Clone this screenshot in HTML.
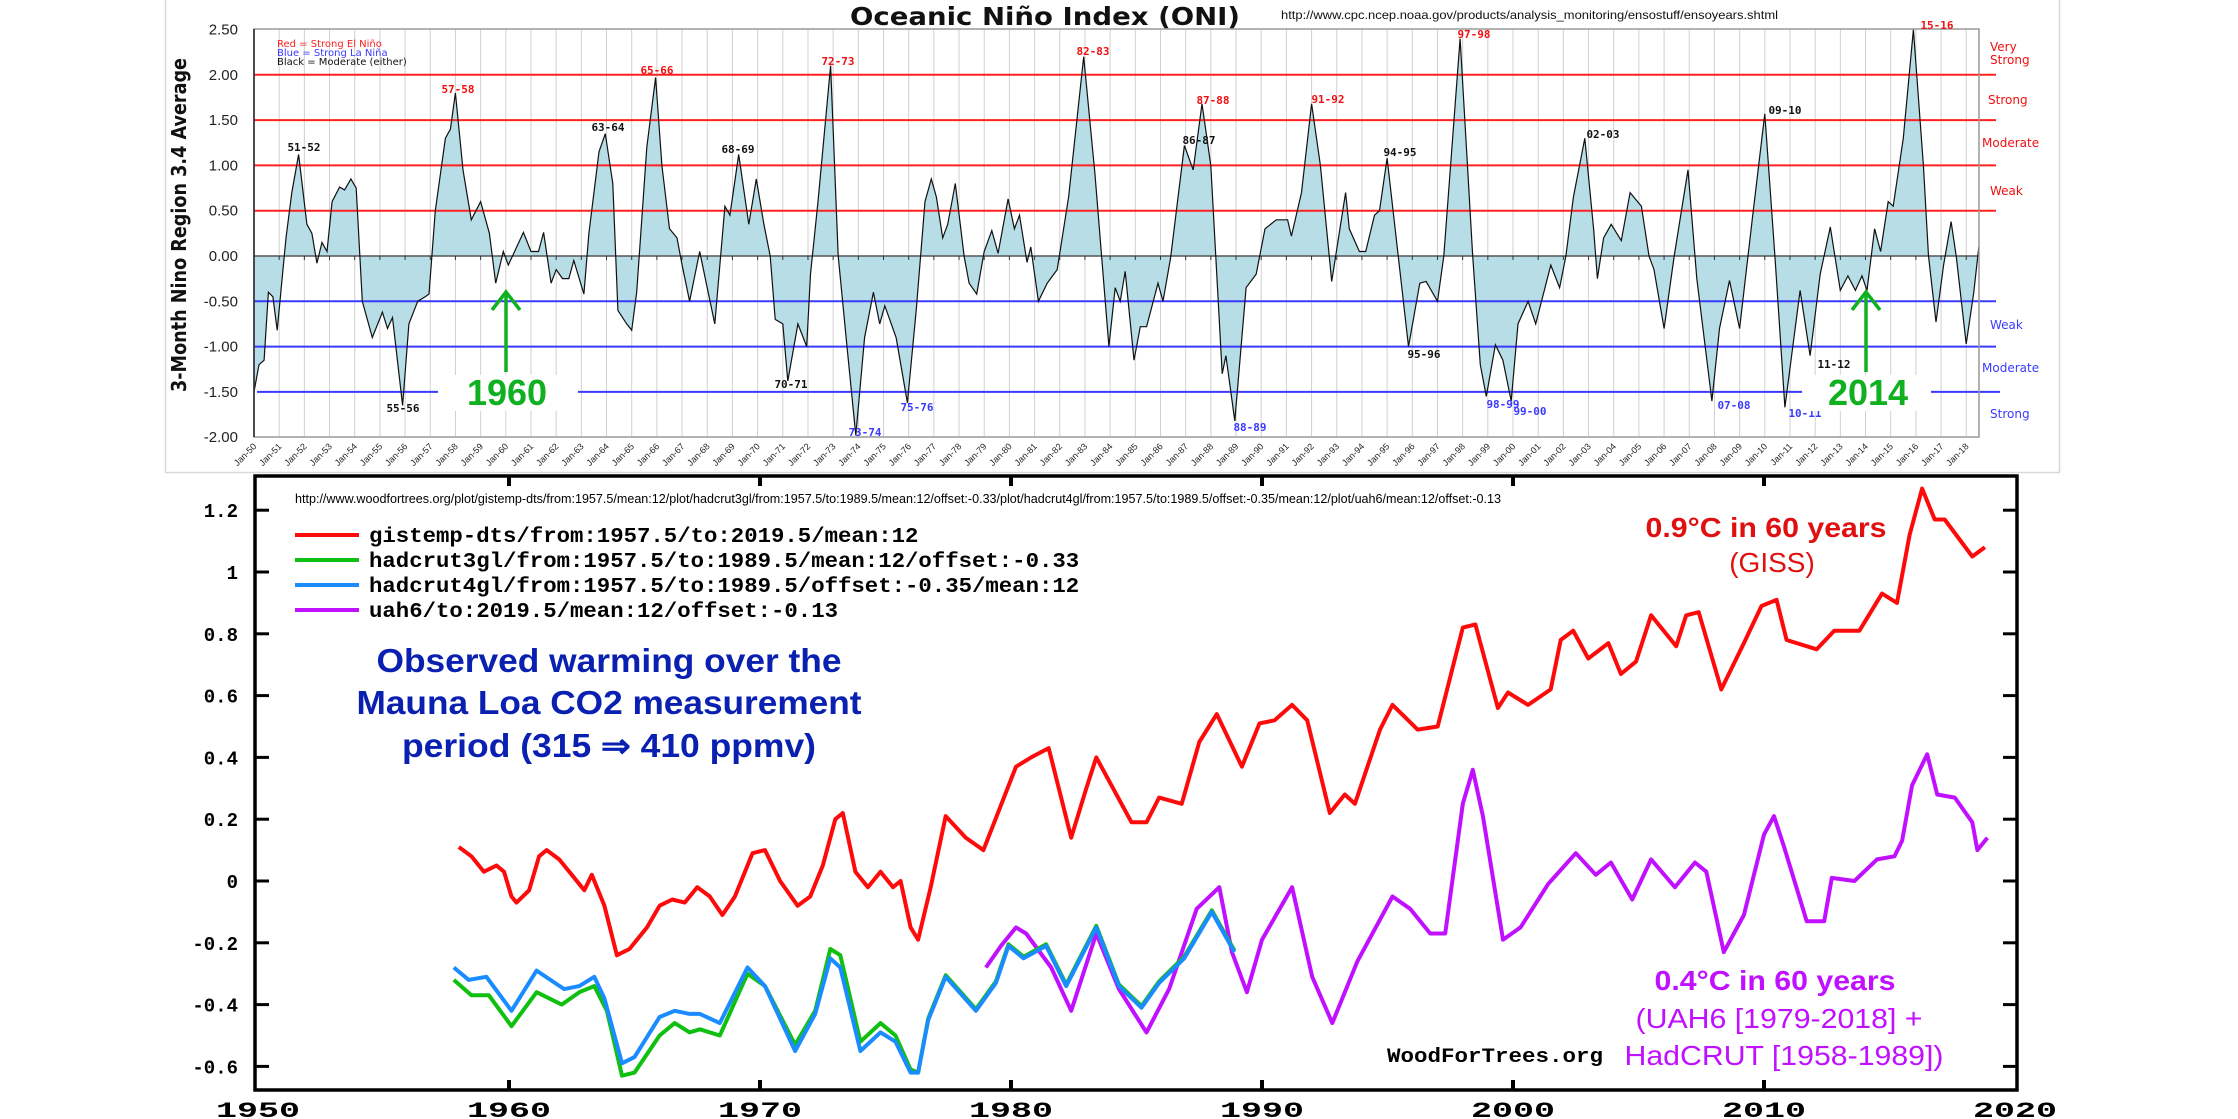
<!DOCTYPE html>
<html><head><meta charset="utf-8">
<style>
html,body{margin:0;padding:0;background:#fff;}
svg{display:block;}
.mono{font-family:"Liberation Mono",monospace;font-weight:bold;}
</style></head>
<body>
<svg id="s" width="2238" height="1119" viewBox="0 0 2238 1119" xmlns="http://www.w3.org/2000/svg">
<rect width="2238" height="1119" fill="#fff"/>
<rect x="165.5" y="-1" width="1894" height="473.5" fill="none" stroke="#d8d8d8" stroke-width="1.5"/>
<g id="gtop"></g>
<g id="gbot"></g>
</svg>
<script>
(function(){
const NS="http://www.w3.org/2000/svg";
function el(parent,tag,attrs,text){const e=document.createElementNS(NS,tag);for(const k in attrs)e.setAttribute(k,attrs[k]);if(text!==undefined)e.textContent=text;parent.appendChild(e);return e;}
const tg=document.getElementById('gtop');
const X0=254,XS=25.18,Y0=256,YS=90.6;
const tx=y=>X0+XS*(y-1950), ty=v=>Y0-YS*v;
for(let y=1950;y<=2018;y++){el(tg,'line',{x1:tx(y),x2:tx(y),y1:29,y2:437,stroke:'#d0d0d0','stroke-width':1});}
const oni=[[1950,-1.5],[1950.2,-1.2],[1950.4,-1.15],[1950.57,-0.4],[1950.75,-0.45],[1950.92,-0.82],[1951.27,0.2],[1951.5,0.7],[1951.77,1.12],[1952.1,0.35],[1952.3,0.25],[1952.5,-0.08],[1952.7,0.15],[1952.9,0.05],[1953.1,0.6],[1953.4,0.76],[1953.6,0.73],[1953.85,0.85],[1954.06,0.75],[1954.3,-0.5],[1954.7,-0.9],[1955.1,-0.62],[1955.3,-0.8],[1955.5,-0.68],[1955.9,-1.65],[1956.15,-0.75],[1956.5,-0.5],[1956.8,-0.45],[1956.95,-0.42],[1957.2,0.5],[1957.6,1.3],[1957.8,1.4],[1958.0,1.8],[1958.3,0.95],[1958.63,0.4],[1959.0,0.6],[1959.35,0.25],[1959.6,-0.3],[1959.9,0.05],[1960.1,-0.1],[1960.35,0.05],[1960.7,0.26],[1961.0,0.05],[1961.3,0.05],[1961.5,0.26],[1961.8,-0.3],[1962.0,-0.15],[1962.25,-0.25],[1962.5,-0.25],[1962.7,-0.05],[1963.1,-0.42],[1963.3,0.25],[1963.7,1.15],[1963.95,1.35],[1964.25,0.8],[1964.45,-0.6],[1964.8,-0.75],[1965.0,-0.82],[1965.2,-0.4],[1965.6,1.2],[1965.95,1.97],[1966.2,1.0],[1966.5,0.3],[1966.8,0.2],[1967.0,-0.1],[1967.3,-0.5],[1967.7,0.05],[1968.0,-0.35],[1968.3,-0.75],[1968.7,0.55],[1968.9,0.45],[1969.25,1.12],[1969.65,0.35],[1969.95,0.85],[1970.25,0.35],[1970.5,0.0],[1970.7,-0.7],[1971.0,-0.75],[1971.2,-1.38],[1971.6,-0.75],[1971.95,-1.0],[1972.1,-0.2],[1972.4,0.6],[1972.9,2.1],[1973.2,0.0],[1973.55,-1.0],[1973.9,-1.98],[1974.25,-0.9],[1974.6,-0.4],[1974.85,-0.75],[1975.05,-0.55],[1975.5,-0.9],[1975.95,-1.62],[1976.3,-0.6],[1976.65,0.6],[1976.9,0.85],[1977.1,0.65],[1977.35,0.2],[1977.55,0.35],[1977.85,0.8],[1978.2,0.0],[1978.4,-0.3],[1978.7,-0.42],[1979.0,0.05],[1979.3,0.28],[1979.55,0.03],[1979.95,0.63],[1980.2,0.3],[1980.4,0.45],[1980.7,-0.07],[1980.85,0.1],[1981.15,-0.5],[1981.5,-0.3],[1981.9,-0.15],[1982.35,0.65],[1982.95,2.2],[1983.4,0.9],[1983.95,-1.0],[1984.2,-0.35],[1984.4,-0.5],[1984.6,-0.17],[1984.95,-1.15],[1985.2,-0.78],[1985.45,-0.78],[1985.9,-0.3],[1986.1,-0.5],[1986.4,-0.02],[1986.95,1.22],[1987.3,0.95],[1987.65,1.68],[1988.0,1.0],[1988.45,-1.3],[1988.6,-1.1],[1988.95,-1.82],[1989.4,-0.35],[1989.8,-0.2],[1990.15,0.3],[1990.6,0.4],[1991.05,0.4],[1991.2,0.22],[1991.6,0.7],[1992.0,1.68],[1992.35,1.0],[1992.8,-0.28],[1993.35,0.7],[1993.5,0.3],[1993.9,0.05],[1994.15,0.05],[1994.5,0.45],[1994.7,0.5],[1995.0,1.08],[1995.4,0.1],[1995.85,-1.0],[1996.3,-0.3],[1996.55,-0.28],[1997.0,-0.5],[1997.25,0.0],[1997.9,2.4],[1998.4,0.0],[1998.7,-1.2],[1998.94,-1.55],[1999.3,-0.98],[1999.6,-1.15],[1999.93,-1.6],[2000.2,-0.75],[2000.6,-0.5],[2000.9,-0.75],[2001.5,-0.1],[2001.85,-0.35],[2002.1,0.0],[2002.4,0.65],[2002.85,1.3],[2003.2,0.3],[2003.35,-0.25],[2003.6,0.2],[2003.9,0.35],[2004.3,0.17],[2004.65,0.7],[2005.1,0.55],[2005.4,0.0],[2005.6,-0.15],[2006.0,-0.8],[2006.4,0.0],[2006.95,0.95],[2007.3,-0.25],[2007.9,-1.6],[2008.2,-0.8],[2008.6,-0.27],[2009.0,-0.8],[2009.5,0.4],[2010.0,1.57],[2010.4,0.0],[2010.8,-1.67],[2011.4,-0.38],[2011.8,-1.1],[2012.2,-0.2],[2012.6,0.32],[2013.0,-0.38],[2013.3,-0.22],[2013.6,-0.38],[2013.86,-0.22],[2014.06,-0.38],[2014.36,0.3],[2014.6,0.05],[2014.9,0.6],[2015.1,0.55],[2015.5,1.3],[2015.9,2.6],[2016.3,1.0],[2016.5,0.0],[2016.8,-0.73],[2017.1,-0.1],[2017.4,0.38],[2017.6,0.0],[2018.0,-0.97],[2018.3,-0.4],[2018.5,0.1]];
const pts=oni.map(p=>tx(p[0]).toFixed(1)+','+ty(Math.min(p[1],2.5)).toFixed(1));
el(tg,'path',{d:'M'+tx(1950)+','+Y0+' L'+pts.join(' L')+' L'+tx(2018.5)+','+Y0+' Z',fill:'#b7dde6',stroke:'none'});
[[0.5,'#ff2020'],[1,'#ff2020'],[1.5,'#ff2020'],[2,'#ff2020'],[-0.5,'#3a3aff'],[-1,'#3a3aff']].forEach(a=>{el(tg,'line',{x1:254,x2:1996,y1:ty(a[0]),y2:ty(a[0]),stroke:a[1],'stroke-width':2});});
const yb=ty(-1.5);
[[257,438],[578,1802],[1931,2000]].forEach(s=>el(tg,'line',{x1:s[0],x2:s[1],y1:yb,y2:yb,stroke:'#3a3aff','stroke-width':2}));
el(tg,'line',{x1:254,x2:1979,y1:Y0,y2:Y0,stroke:'#555','stroke-width':1.5});
el(tg,'polyline',{points:pts.join(' '),fill:'none',stroke:'#111','stroke-width':1.2});
for(let y=1950;y<=2018;y++){el(tg,'line',{x1:tx(y),x2:tx(y),y1:Y0,y2:Y0+4,stroke:'#333','stroke-width':1});}
el(tg,'path',{d:'M254,29 L1979,29 L1979,437 L254,437 Z',fill:'none',stroke:'#999','stroke-width':1.5});
el(tg,'line',{x1:254,x2:254,y1:29,y2:437,stroke:'#222','stroke-width':1.5});
for(let i=0;i<=9;i++){const v=2.5-0.5*i;el(tg,'text',{x:238,y:ty(v)+5,'text-anchor':'end','font-size':15,'font-family':'Liberation Sans,sans-serif',fill:'#222'},v.toFixed(2));}
el(tg,'text',{x:0,y:0,transform:'translate(186,225) rotate(-90)','text-anchor':'middle','font-size':20,'font-weight':'bold','font-family':'DejaVu Sans,sans-serif',textLength:334,lengthAdjust:'spacingAndGlyphs',fill:'#111'},'3-Month Nino Region 3.4 Average');
for(let y=1950;y<=2018;y++){const yy=String(y%100).padStart(2,'0');el(tg,'text',{x:0,y:0,transform:'translate('+(tx(y)+3)+',447) rotate(-45)','text-anchor':'end','font-size':9,'font-family':'Liberation Sans,sans-serif',fill:'#222'},'Jan-'+yy);}
el(tg,'text',{x:1045,y:25,'text-anchor':'middle','font-size':25,'font-weight':'bold','font-family':'DejaVu Sans,sans-serif',textLength:390,lengthAdjust:'spacingAndGlyphs',fill:'#111'},'Oceanic Niño Index (ONI)');
el(tg,'text',{x:1281,y:19,'font-size':12,'font-family':'Liberation Sans,sans-serif',textLength:497,lengthAdjust:'spacingAndGlyphs',fill:'#111'},'http://www.cpc.ncep.noaa.gov/products/analysis_monitoring/ensostuff/ensoyears.shtml');
el(tg,'text',{x:277,y:47,'font-size':10,'font-family':'DejaVu Sans,sans-serif',fill:'#ff2020'},'Red = Strong  El Niño');
el(tg,'text',{x:277,y:56,'font-size':10,'font-family':'DejaVu Sans,sans-serif',fill:'#3a3aff'},'Blue = Strong  La Niña');
el(tg,'text',{x:277,y:65,'font-size':10,'font-family':'DejaVu Sans,sans-serif',fill:'#111'},'Black = Moderate  (either)');
const L=[['57-58',458,93,'#f01010'],['65-66',657,74,'#f01010'],['72-73',838,65,'#f01010'],['82-83',1093,55,'#f01010'],['87-88',1213,104,'#f01010'],['91-92',1328,103,'#f01010'],['97-98',1474,38,'#f01010'],['15-16',1937,29,'#f01010'],
['51-52',304,151,'#111'],['63-64',608,131,'#111'],['68-69',738,153,'#111'],['70-71',791,388,'#111'],['55-56',403,412,'#111'],['86-87',1199,144,'#111'],['94-95',1400,156,'#111'],['95-96',1424,358,'#111'],['02-03',1603,138,'#111'],['09-10',1785,114,'#111'],['11-12',1834,368,'#111'],
['73-74',865,436,'#3a3aff'],['75-76',917,411,'#3a3aff'],['88-89',1250,431,'#3a3aff'],['98-99',1503,408,'#3a3aff'],['99-00',1530,415,'#3a3aff'],['07-08',1734,409,'#3a3aff'],['10-11',1805,417,'#3a3aff']];
L.forEach(a=>el(tg,'text',{x:a[1],y:a[2],'text-anchor':'middle','font-size':11,'font-weight':'bold','font-family':'DejaVu Sans Mono,monospace',fill:a[3]},a[0]));
[['Very',1990,51,'#f01010'],['Strong',1990,64,'#f01010'],['Strong',1988,104,'#f01010'],['Moderate',1982,147,'#f01010'],['Weak',1990,195,'#f01010'],['Weak',1990,329,'#3a3aff'],['Moderate',1982,372,'#3a3aff'],['Strong',1990,418,'#3a3aff']].forEach(a=>el(tg,'text',{x:a[1],y:a[2],'font-size':12,'font-family':'DejaVu Sans,sans-serif',fill:a[3]},a[0]));
[[506,'1960',507],[1866,'2014',1868]].forEach(a=>{
 el(tg,'rect',{x:a[2]-62,y:375,width:124,height:36,fill:'#fff'});
 el(tg,'line',{x1:a[0],x2:a[0],y1:372,y2:294,stroke:'#10b020','stroke-width':3.5});
 el(tg,'path',{d:'M'+(a[0]-14)+',310 L'+a[0]+',292 L'+(a[0]+14)+',310',fill:'none',stroke:'#10b020','stroke-width':3.5});
 el(tg,'text',{x:a[2],y:405,'text-anchor':'middle','font-size':36,'font-weight':'bold','font-family':'Liberation Sans,sans-serif',fill:'#10b020'},a[1]);
});

const gb=document.getElementById('gbot');
const bx=y=>258+25.1*(y-1950), by=v=>881-309*v;
function line(data,col){el(gb,'polyline',{points:data.map(p=>bx(p[0]).toFixed(1)+','+by(p[1]).toFixed(1)).join(' '),fill:'none',stroke:col,'stroke-width':4,'stroke-linejoin':'round'});}
const giss=[[1958.0,0.11],[1958.5,0.08],[1959,0.03],[1959.5,0.05],[1959.8,0.03],[1960.1,-0.05],[1960.3,-0.07],[1960.8,-0.03],[1961.2,0.08],[1961.5,0.10],[1962,0.07],[1962.5,0.02],[1963,-0.03],[1963.3,0.02],[1963.8,-0.08],[1964.3,-0.24],[1964.8,-0.22],[1965.5,-0.15],[1966,-0.08],[1966.5,-0.06],[1967,-0.07],[1967.5,-0.02],[1968,-0.05],[1968.5,-0.11],[1969,-0.05],[1969.7,0.09],[1970.2,0.10],[1970.8,0.0],[1971.5,-0.08],[1972,-0.05],[1972.5,0.05],[1973,0.20],[1973.3,0.22],[1973.8,0.03],[1974.3,-0.02],[1974.8,0.03],[1975.3,-0.02],[1975.6,0.0],[1976,-0.15],[1976.3,-0.19],[1976.8,-0.02],[1977.4,0.21],[1978.2,0.14],[1978.9,0.10],[1980.2,0.37],[1980.8,0.40],[1981.5,0.43],[1982.4,0.14],[1983.0,0.30],[1983.4,0.40],[1984.8,0.19],[1985.4,0.19],[1985.9,0.27],[1986.8,0.25],[1987.5,0.45],[1988.2,0.54],[1989.2,0.37],[1989.9,0.51],[1990.5,0.52],[1991.2,0.57],[1991.8,0.52],[1992.7,0.22],[1993.3,0.28],[1993.7,0.25],[1994.7,0.49],[1995.2,0.57],[1996.2,0.49],[1997.0,0.50],[1998.0,0.82],[1998.5,0.83],[1999.4,0.56],[1999.8,0.61],[2000.6,0.57],[2001.5,0.62],[2001.9,0.78],[2002.4,0.81],[2003.0,0.72],[2003.8,0.77],[2004.3,0.67],[2004.9,0.71],[2005.5,0.86],[2006.5,0.76],[2006.9,0.86],[2007.4,0.87],[2008.3,0.62],[2009.2,0.77],[2009.9,0.89],[2010.5,0.91],[2010.9,0.78],[2012.1,0.75],[2012.8,0.81],[2013.8,0.81],[2014.7,0.93],[2015.3,0.90],[2015.8,1.12],[2016.3,1.27],[2016.8,1.17],[2017.2,1.17],[2018.3,1.05],[2018.8,1.08]];
const uah=[[1979.0,-0.28],[1979.6,-0.21],[1980.2,-0.15],[1980.6,-0.17],[1981.6,-0.28],[1982.4,-0.42],[1983.4,-0.17],[1984.3,-0.35],[1985.4,-0.49],[1986.3,-0.35],[1987.4,-0.09],[1988.3,-0.02],[1988.8,-0.23],[1989.4,-0.36],[1990.0,-0.19],[1991.2,-0.02],[1992.0,-0.31],[1992.8,-0.46],[1993.8,-0.26],[1995.2,-0.05],[1995.9,-0.09],[1996.7,-0.17],[1997.3,-0.17],[1998.0,0.25],[1998.4,0.36],[1998.8,0.21],[1999.6,-0.19],[2000.3,-0.15],[2001.4,-0.01],[2002.5,0.09],[2003.3,0.02],[2003.9,0.06],[2004.75,-0.06],[2005.5,0.07],[2006.45,-0.02],[2007.25,0.06],[2007.7,0.03],[2008.4,-0.23],[2009.2,-0.11],[2010.0,0.15],[2010.4,0.21],[2010.8,0.11],[2011.7,-0.13],[2012.4,-0.13],[2012.7,0.01],[2013.6,0.0],[2014.5,0.07],[2015.2,0.08],[2015.5,0.13],[2015.9,0.31],[2016.5,0.41],[2016.9,0.28],[2017.6,0.27],[2018.3,0.19],[2018.5,0.10],[2018.9,0.14]];
const common=[[1976.7,-0.45],[1977.4,-0.31],[1978.6,-0.42],[1979.4,-0.33],[1979.9,-0.21],[1980.5,-0.25],[1981.4,-0.21],[1982.2,-0.34],[1983.4,-0.15],[1984.3,-0.34],[1985.2,-0.41],[1985.9,-0.33],[1986.9,-0.25],[1988.0,-0.10],[1988.9,-0.23]];
const blue=[[1957.8,-0.28],[1958.4,-0.32],[1959.1,-0.31],[1960.1,-0.42],[1961.1,-0.29],[1962.2,-0.35],[1962.8,-0.34],[1963.4,-0.31],[1963.8,-0.38],[1964.5,-0.59],[1965.0,-0.57],[1966.0,-0.44],[1966.6,-0.42],[1967.2,-0.43],[1967.6,-0.43],[1968.4,-0.46],[1969.5,-0.28],[1970.2,-0.34],[1971.4,-0.55],[1972.2,-0.43],[1972.8,-0.25],[1973.2,-0.28],[1974.0,-0.55],[1974.8,-0.49],[1975.4,-0.52],[1976.0,-0.62],[1976.3,-0.62]].concat(common);
const green=[[1957.8,-0.32],[1958.5,-0.37],[1959.2,-0.37],[1960.1,-0.47],[1961.1,-0.36],[1962.1,-0.40],[1962.8,-0.36],[1963.4,-0.34],[1963.9,-0.42],[1964.5,-0.63],[1965.0,-0.62],[1966.0,-0.50],[1966.6,-0.46],[1967.2,-0.49],[1967.6,-0.48],[1968.4,-0.50],[1969.5,-0.30],[1970.2,-0.34],[1971.4,-0.53],[1972.2,-0.42],[1972.8,-0.22],[1973.2,-0.24],[1974.0,-0.52],[1974.8,-0.46],[1975.4,-0.50],[1976.0,-0.61],[1976.3,-0.62]].concat(common.map(p=>[p[0],p[1]+0.005]));
line(giss,'#ff0a0a');line(uah,'#c010ff');line(green,'#10c010');line(blue,'#1a8cff');
el(gb,'rect',{x:255,y:476,width:1762,height:614,fill:'none',stroke:'#000','stroke-width':3.5});
for(let d=1960;d<=2010;d+=10){el(gb,'line',{x1:bx(d),x2:bx(d),y1:476,y2:486,stroke:'#000','stroke-width':4});el(gb,'line',{x1:bx(d),x2:bx(d),y1:1080,y2:1090,stroke:'#000','stroke-width':4});}
for(let i=0;i<=9;i++){const v=1.2-0.2*i;const y=by(v);el(gb,'line',{x1:255,x2:269,y1:y,y2:y,stroke:'#000','stroke-width':3});el(gb,'line',{x1:2003,x2:2017,y1:y,y2:y,stroke:'#000','stroke-width':3});
 const s=Math.abs(v)<1e-9?'0':(Math.abs(v-1)<1e-9?'1':v.toFixed(1));el(gb,'text',{x:238,y:y+7,'text-anchor':'end','font-size':19,'class':'mono',fill:'#000'},s);}
for(let d=1950;d<=2020;d+=10){el(gb,'text',{x:bx(d),y:1117,'text-anchor':'middle','font-size':22,'class':'mono',fill:'#000',textLength:84,lengthAdjust:'spacingAndGlyphs'},String(d));}
el(gb,'text',{x:295,y:503,'font-size':13,'font-family':'Liberation Sans,sans-serif',textLength:1206,lengthAdjust:'spacingAndGlyphs',fill:'#000'},'http://www.woodfortrees.org/plot/gistemp-dts/from:1957.5/mean:12/plot/hadcrut3gl/from:1957.5/to:1989.5/mean:12/offset:-0.33/plot/hadcrut4gl/from:1957.5/to:1989.5/offset:-0.35/mean:12/plot/uah6/mean:12/offset:-0.13');
[['gistemp-dts/from:1957.5/to:2019.5/mean:12','#ff0a0a'],['hadcrut3gl/from:1957.5/to:1989.5/mean:12/offset:-0.33','#10c010'],['hadcrut4gl/from:1957.5/to:1989.5/offset:-0.35/mean:12','#1a8cff'],['uah6/to:2019.5/mean:12/offset:-0.13','#c010ff']].forEach((a,i)=>{const y=535+25*i;el(gb,'line',{x1:295,x2:359,y1:y,y2:y,stroke:a[1],'stroke-width':4});el(gb,'text',{x:369,y:y+7,'font-size':21,'class':'mono',fill:'#000',textLength:a[0].length*13.4,lengthAdjust:'spacingAndGlyphs'},a[0]);});
[['Observed warming over the',672,465],['Mauna Loa CO2 measurement',714,505],['period (315 ⇒ 410 ppmv)',757,414]].forEach(a=>el(gb,'text',{x:609,y:a[1],'text-anchor':'middle','font-size':33,'font-weight':'bold','font-family':'Liberation Sans,sans-serif',fill:'#0a20b0',textLength:a[2],lengthAdjust:'spacingAndGlyphs'},a[0]));
el(gb,'text',{x:1766,y:537,'text-anchor':'middle','font-size':28,'font-weight':'bold','font-family':'Liberation Sans,sans-serif',fill:'#e01010',textLength:241,lengthAdjust:'spacingAndGlyphs'},'0.9°C in 60 years');
el(gb,'text',{x:1772,y:572,'text-anchor':'middle','font-size':28,'font-family':'Liberation Sans,sans-serif',fill:'#e01010'},'(GISS)');
el(gb,'text',{x:1775,y:990,'text-anchor':'middle','font-size':28,'font-weight':'bold','font-family':'Liberation Sans,sans-serif',fill:'#c010ff',textLength:241,lengthAdjust:'spacingAndGlyphs'},'0.4°C in 60 years');
el(gb,'text',{x:1779,y:1028,'text-anchor':'middle','font-size':28,'font-family':'Liberation Sans,sans-serif',fill:'#c010ff',textLength:287,lengthAdjust:'spacingAndGlyphs'},'(UAH6 [1979-2018] +');
el(gb,'text',{x:1784,y:1065,'text-anchor':'middle','font-size':28,'font-family':'Liberation Sans,sans-serif',fill:'#c010ff',textLength:319,lengthAdjust:'spacingAndGlyphs'},'HadCRUT [1958-1989])');
el(gb,'text',{x:1387,y:1062,'font-size':20,'class':'mono',fill:'#000',textLength:216,lengthAdjust:'spacingAndGlyphs'},'WoodForTrees.org');
})();
</script>
</body></html>
